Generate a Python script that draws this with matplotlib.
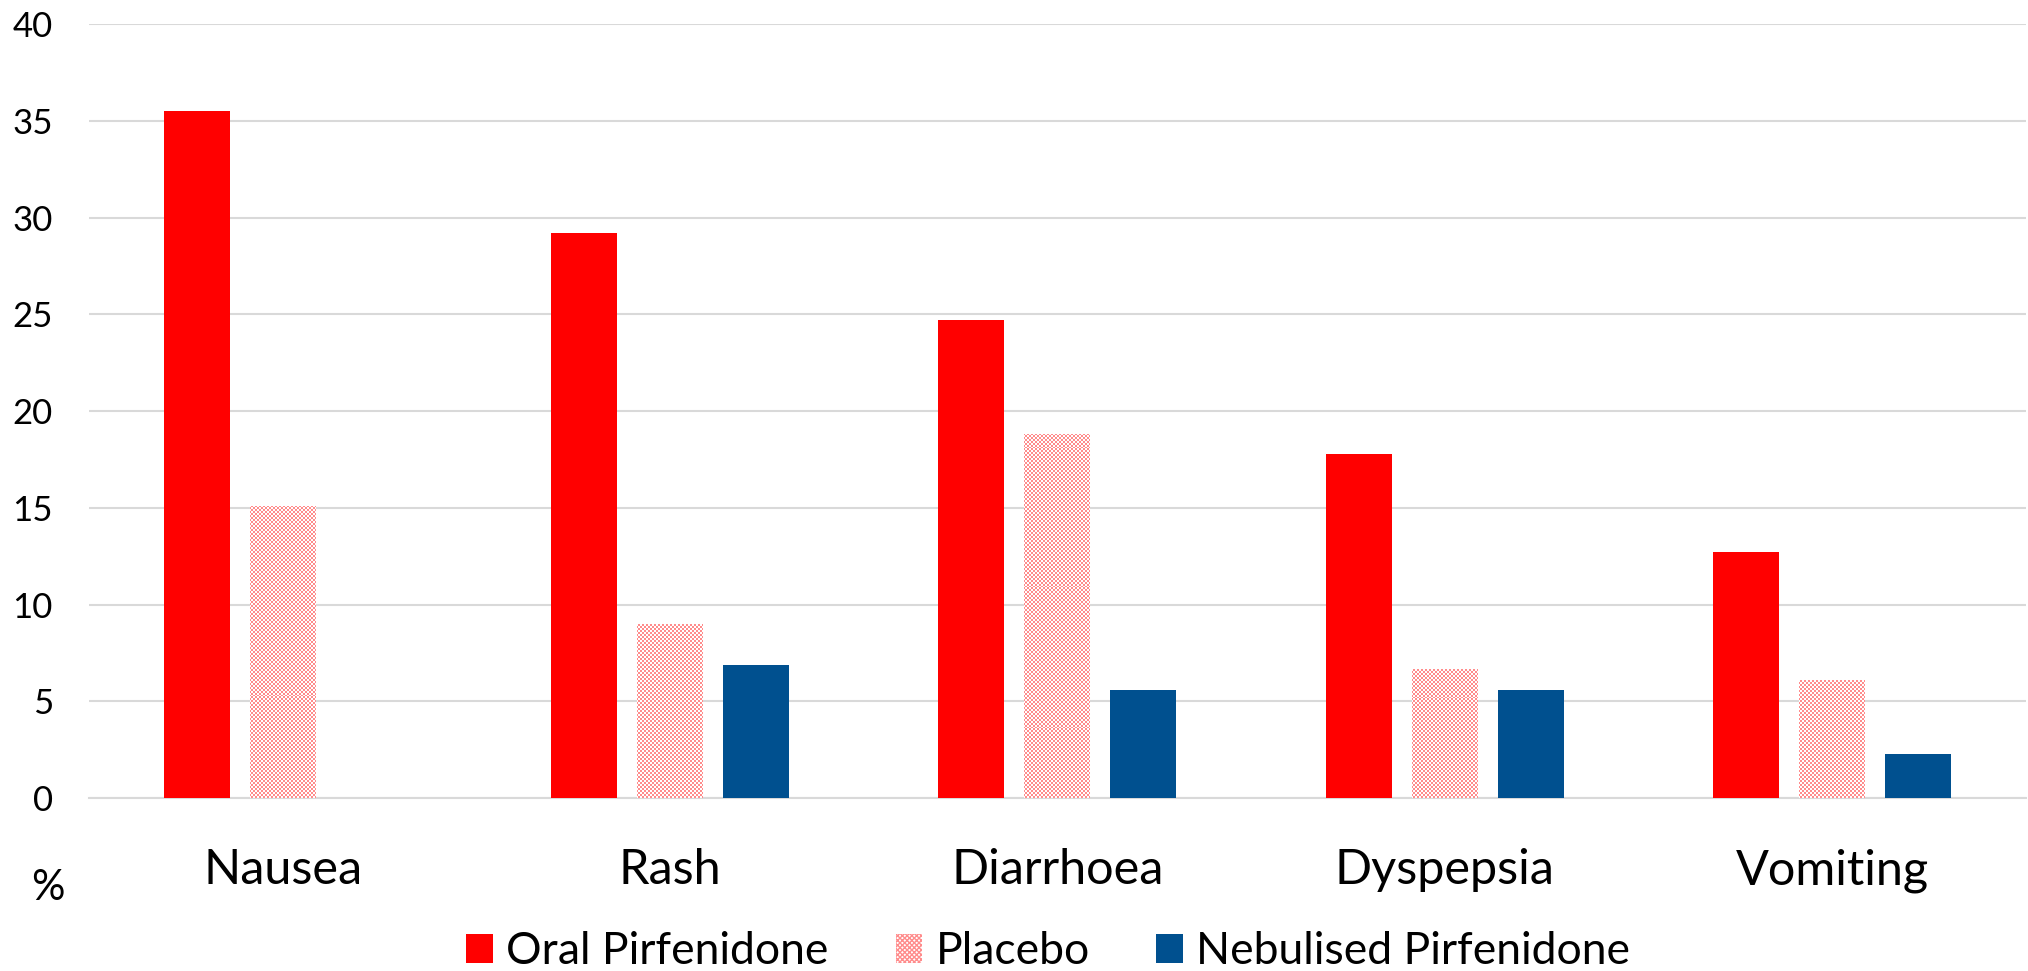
import numpy as np
import matplotlib
matplotlib.use('Agg')
import matplotlib.pyplot as plt
from matplotlib.patches import Patch

categories = ['Nausea', 'Rash', 'Diarrhoea', 'Dyspepsia', 'Vomiting']
oral = [35.5, 29.2, 24.7, 17.8, 12.7]
placebo = [15.1, 9.0, 18.8, 6.7, 6.1]
nebulised = [0, 6.9, 5.6, 5.6, 2.3]

RED = '#ff0000'
PINK = '#ff8c8c'
BLUE = '#00508f'

plt.rcParams['font.family'] = ['Lato', 'DejaVu Sans']

fig = plt.figure(figsize=(20.28, 9.71), dpi=100)
ax = fig.add_axes([0.0439, 0.178, 0.955, 0.797])

x = np.arange(len(categories))
step, width = 0.222, 0.17
ax.bar(x - step, oral, width, color=RED, zorder=3)
pbars = ax.bar(x, placebo, width, color='none', zorder=3)
ax.bar(x + step, nebulised, width, color=BLUE, zorder=3)

# fine checkerboard fill for the placebo bars
nrow, ncol = 390, 970
yy, xx = np.indices((nrow, ncol))
checker = np.where((yy + xx) % 2 == 0, 1.0, 0.0)
cmap = matplotlib.colors.ListedColormap(['white', PINK])
for p in pbars:
    im = ax.imshow(checker, cmap=cmap, interpolation='nearest', aspect='auto',
                   extent=(-0.5, len(categories) - 0.5, 0, 40), zorder=3)
    im.set_clip_path(p)
ax.set_aspect('auto')
ax.set_xlim(-0.5, len(categories) - 0.5)
ax.set_ylim(0, 40)

ax.set_yticks(range(0, 41, 5))
ax.yaxis.grid(True, color='#d9d9d9', linewidth=1.5, zorder=0)
ax.set_axisbelow(True)
for s in ['top', 'right', 'left']:
    ax.spines[s].set_visible(False)
ax.spines['bottom'].set_color('#d9d9d9')
ax.spines['bottom'].set_linewidth(1.5)
ax.tick_params(axis='y', length=0, labelsize=25, pad=26)
ax.tick_params(axis='x', length=0, labelsize=35, pad=36)
ax.set_xticks(x)
ax.set_xticklabels(categories)

fig.text(0.0237, 0.085, '%', fontsize=30, ha='center', va='center')

handles = [Patch(facecolor=RED),
           Patch(facecolor='white', edgecolor=PINK, hatch='xxxxxxx', linewidth=0),
           Patch(facecolor=BLUE)]
labels = ['Oral Pirfenidone', 'Placebo', 'Nebulised Pirfenidone']
fig.legend(handles, labels, loc='center', bbox_to_anchor=(0.517, 0.02), ncol=3,
           frameon=False, fontsize=32, handlelength=0.6, handleheight=0.6,
           handletextpad=0.3, columnspacing=1.5, borderpad=0)

fig.savefig('out.png', dpi=100)
